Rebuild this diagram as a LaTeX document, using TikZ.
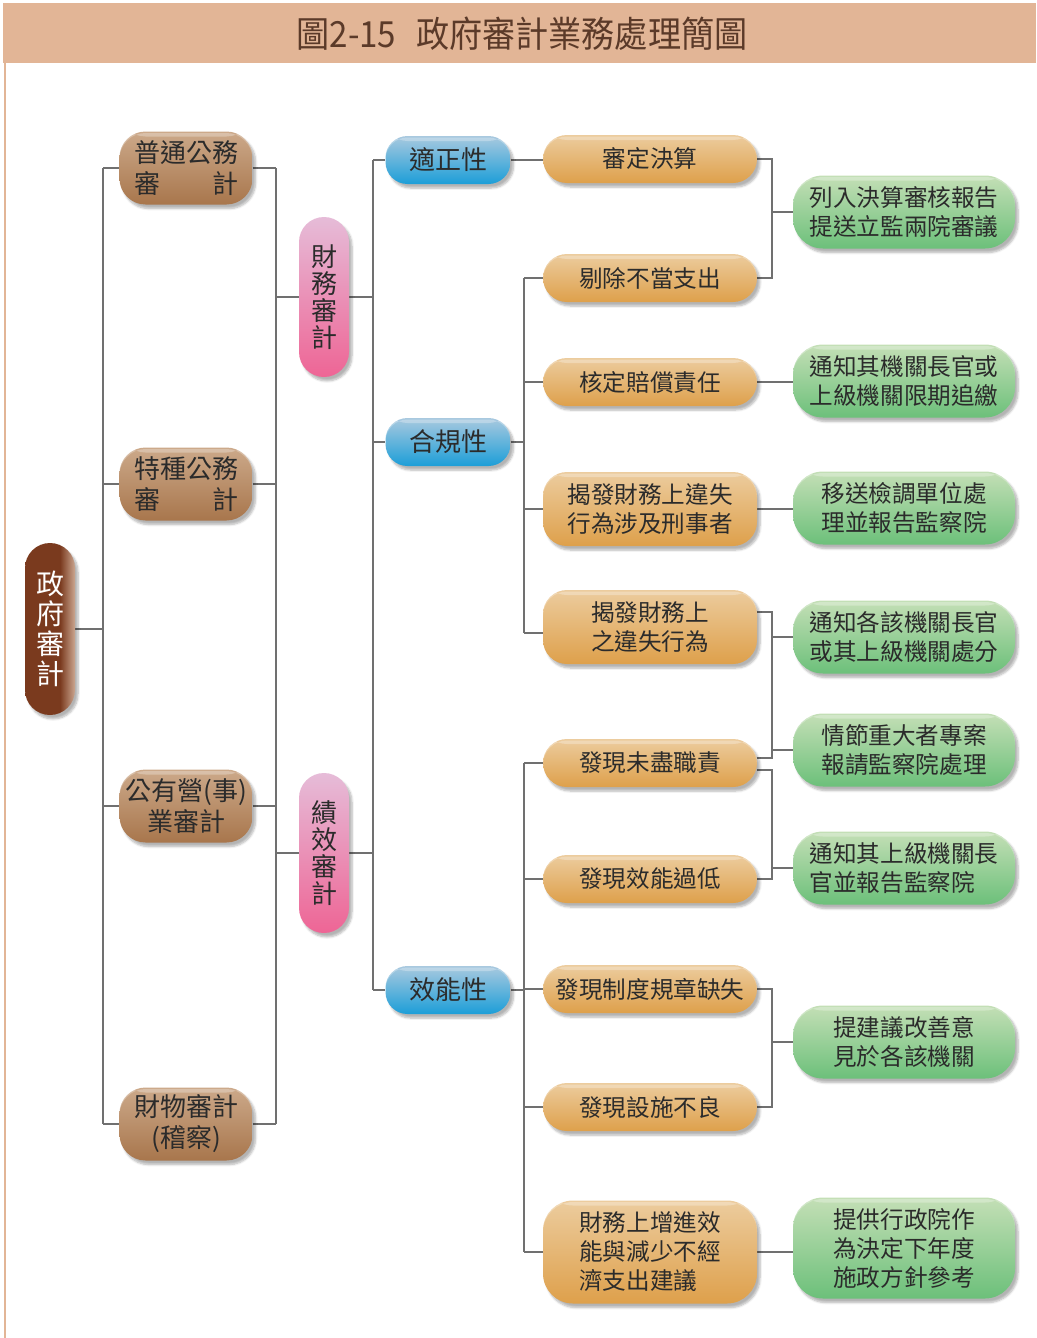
\documentclass[tikz,border=0pt]{standalone}
\usepackage{fontspec}
\setmainfont{Noto Sans CJK TC}
\usetikzlibrary{shadows.blur}
\definecolor{barTan}{HTML}{E2B596}
\definecolor{titleTxt}{HTML}{5B3A29}
\definecolor{txt}{HTML}{2B2B2B}
\definecolor{lineGray}{HTML}{707070}
\definecolor{brTop}{HTML}{CCA98A}
\definecolor{brBot}{HTML}{A8764C}
\definecolor{rootDark}{HTML}{7A3A1E}
\definecolor{rootLight}{HTML}{CBA690}
\definecolor{pkTop}{HTML}{E6BCD8}
\definecolor{pkBot}{HTML}{EE6595}
\definecolor{blTop}{HTML}{A9C9DF}
\definecolor{blBot}{HTML}{1C9ED8}
\definecolor{orTop}{HTML}{ECCC9E}
\definecolor{orBot}{HTML}{DEA04B}
\definecolor{grTop}{HTML}{C4DFB6}
\definecolor{grBot}{HTML}{6CC07A}
\pgfdeclarelayer{bg}
\pgfsetlayers{bg,main}
\pgfdeclarehorizontalshading{rootshade}{100bp}{color(0bp)=(rootDark); color(25bp)=(rootDark); color(60bp)=(rootDark); color(75bp)=(rootLight); color(100bp)=(rootLight)}
\begin{document}
\begin{tikzpicture}[x=1pt,y=-1pt,
  base/.style={draw=none, inner sep=0pt, text=txt,
    blur shadow={shadow xshift=3pt, shadow yshift=-4pt, shadow blur steps=6, shadow opacity=30}},
  gloss/.style={path picture={\fill[white, opacity=0.28] ([yshift=-1.5pt]path picture bounding box.north west) rectangle ([yshift=-5pt]path picture bounding box.north east);}},
  rootbox/.style={base, minimum width=50pt, minimum height=172pt, rounded corners=25pt,
    shading=rootshade, text=white, align=center, font=\fontsize{28}{30}\selectfont},
  lvone/.style={base, gloss, minimum width=133pt, minimum height=73pt, rounded corners=26pt,
    top color=brTop, bottom color=brBot, align=center, font=\fontsize{26}{31}\selectfont},
  pinkbox/.style={base, minimum width=50pt, minimum height=160pt, rounded corners=25pt,
    top color=pkTop, bottom color=pkBot, align=center, font=\fontsize{26}{27}\selectfont},
  bluebox/.style={base, gloss, minimum width=125pt, minimum height=48pt, rounded corners=22pt,
    top color=blTop, bottom color=blBot, font=\fontsize{26}{30}\selectfont},
  orbox/.style={base, gloss, minimum width=214pt, minimum height=48pt, rounded corners=24pt,
    top color=orTop, bottom color=orBot, align=left, font=\fontsize{23.6}{29}\selectfont},
  grbox/.style={base, gloss, minimum width=222pt, minimum height=73pt, rounded corners=30pt,
    top color=grTop, bottom color=grBot, align=left, font=\fontsize{23.6}{29}\selectfont},
  conn/.style={draw=lineGray, line width=1.5pt}
]
\useasboundingbox (0,0) rectangle (1036,1338);
% frame
\fill[barTan] (3,3) rectangle (1036,63);
\draw[barTan, line width=2pt] (5,63) -- (5,1338);
\node[text=titleTxt] (title) at (522,34) {\scalebox{0.92}[1]{\fontsize{36}{36}\selectfont 圖2-15\hspace{0.6em}政府審計業務處理簡圖}};

% nodes
\node[rootbox] (root) at (50,629) {政\\府\\審\\計};
\node[lvone] (a1) at (186,168) {普通公務\\審　　計};
\node[lvone] (a2) at (186,484) {特種公務\\審　　計};
\node[lvone] (a3) at (186,806) {公有營(事)\\業審計};
\node[lvone] (a4) at (186,1124) {財物審計\\(稽察)};
\node[pinkbox] (p1) at (324,297) {財\\務\\審\\計};
\node[pinkbox] (p2) at (324,853) {績\\效\\審\\計};
\node[bluebox] (b1) at (448,160) {適正性};
\node[bluebox] (b2) at (448,442) {合規性};
\node[bluebox] (b3) at (448,990) {效能性};
\node[orbox] (o1) at (650,159) {審定決算};
\node[orbox] (o2) at (650,278) {剔除不當支出};
\node[orbox] (o3) at (650,382) {核定賠償責任};
\node[orbox, minimum height=74pt] (o4) at (650,509) {揭發財務上違失\\行為涉及刑事者};
\node[orbox, minimum height=74pt] (o5) at (650,627) {揭發財務上\\之違失行為};
\node[orbox] (o6) at (650,763) {發現未盡職責};
\node[orbox] (o7) at (650,879) {發現效能過低};
\node[orbox] (o8) at (650,989) {發現制度規章缺失};
\node[orbox] (o9) at (650,1107) {發現設施不良};
\node[orbox, minimum height=103pt, rounded corners=30pt] (o10) at (650,1252) {財務上增進效\\能與減少不經\\濟支出建議};
\node[grbox] (g1) at (904,212) {列入決算審核報告\\提送立監兩院審議};
\node[grbox] (g2) at (904,381) {通知其機關長官或\\上級機關限期追繳};
\node[grbox] (g3) at (904,508) {移送檢調單位處\\理並報告監察院};
\node[grbox] (g4) at (904,637) {通知各該機關長官\\或其上級機關處分};
\node[grbox] (g5) at (904,750) {情節重大者專案\\報請監察院處理};
\node[grbox] (g6) at (904,868) {通知其上級機關長\\官並報告監察院};
\node[grbox] (g7) at (904,1042) {提建議改善意\\見於各該機關};
\node[grbox, minimum height=101pt] (g8) at (904,1248) {提供行政院作\\為決定下年度\\施政方針參考};

% bus coordinates
\coordinate (X1) at (103,0);
\coordinate (X2) at (276,0);
\coordinate (X3) at (373,0);
\coordinate (X4) at (524,0);
\coordinate (X5) at (772,0);
\coordinate (m1) at (772,212);
\coordinate (m2) at (772,1042);
\coordinate (o5l) at ([yshift=-6pt]o5.west);
\coordinate (o5r) at ([yshift=15pt]o5.east);
\coordinate (o6ra) at ([yshift=5pt]o6.east);
\coordinate (o6rb) at ([yshift=-7pt]o6.east);

\begin{pgfonlayer}{bg}
\draw[conn] (root.east) -- (root.east -| X1);
\draw[conn] (X1 |- a1.west) -- (X1 |- a4.west);
\foreach \n in {a1,a2,a3,a4} {
  \draw[conn] (X1 |- \n.west) -- (\n.west);
  \draw[conn] (\n.east) -- (\n.east -| X2);
}
\draw[conn] (X2 |- a1.east) -- (X2 |- a4.east);
\draw[conn] (X2 |- p1.west) -- (p1.west);
\draw[conn] (X2 |- p2.west) -- (p2.west);
\draw[conn] (p1.east) -- (p1.east -| X3);
\draw[conn] (p2.east) -- (p2.east -| X3);
\draw[conn] (X3 |- b1.west) -- (X3 |- b3.west);
\foreach \n in {b1,b2,b3} \draw[conn] (X3 |- \n.west) -- (\n.west);
\draw[conn] (b1.east) -- (b1.east -| o1.west);
% compliance bus
\draw[conn] (b2.east) -- (b2.east -| X4);
\draw[conn] (X4 |- o2.west) -- (X4 |- o5l);
\foreach \n in {o2,o3,o4} \draw[conn] (X4 |- \n.west) -- (\n.west);
\draw[conn] (X4 |- o5l) -- (o5l);
% performance bus
\draw[conn] (b3.east) -- (b3.east -| X4);
\draw[conn] (X4 |- o6.west) -- (X4 |- o10.west);
\foreach \n in {o6,o7,o8,o9,o10} \draw[conn] (X4 |- \n.west) -- (\n.west);
% to green
\draw[conn] (o1.east) -| (m1) |- (o2.east);
\draw[conn] (m1) -- (g1.west);
\draw[conn] (o3.east) -- (o3.east -| g2.west);
\draw[conn] (o4.east) -- (o4.east -| g3.west);
\draw[conn] (o5r) -| (X5 |- o6ra) -- (o6ra);
\draw[conn] (X5 |- g4.west) -- (g4.west);
\draw[conn] (X5 |- g5.west) -- (g5.west);
\draw[conn] (o6rb) -| (X5 |- o7.east) -- (o7.east);
\draw[conn] (X5 |- g6.west) -- (g6.west);
\draw[conn] (o8.east) -| (m2) |- (o9.east);
\draw[conn] (m2) -- (g7.west);
\draw[conn] (o10.east) -- (o10.east -| g8.west);
\end{pgfonlayer}
\end{tikzpicture}
\end{document}
